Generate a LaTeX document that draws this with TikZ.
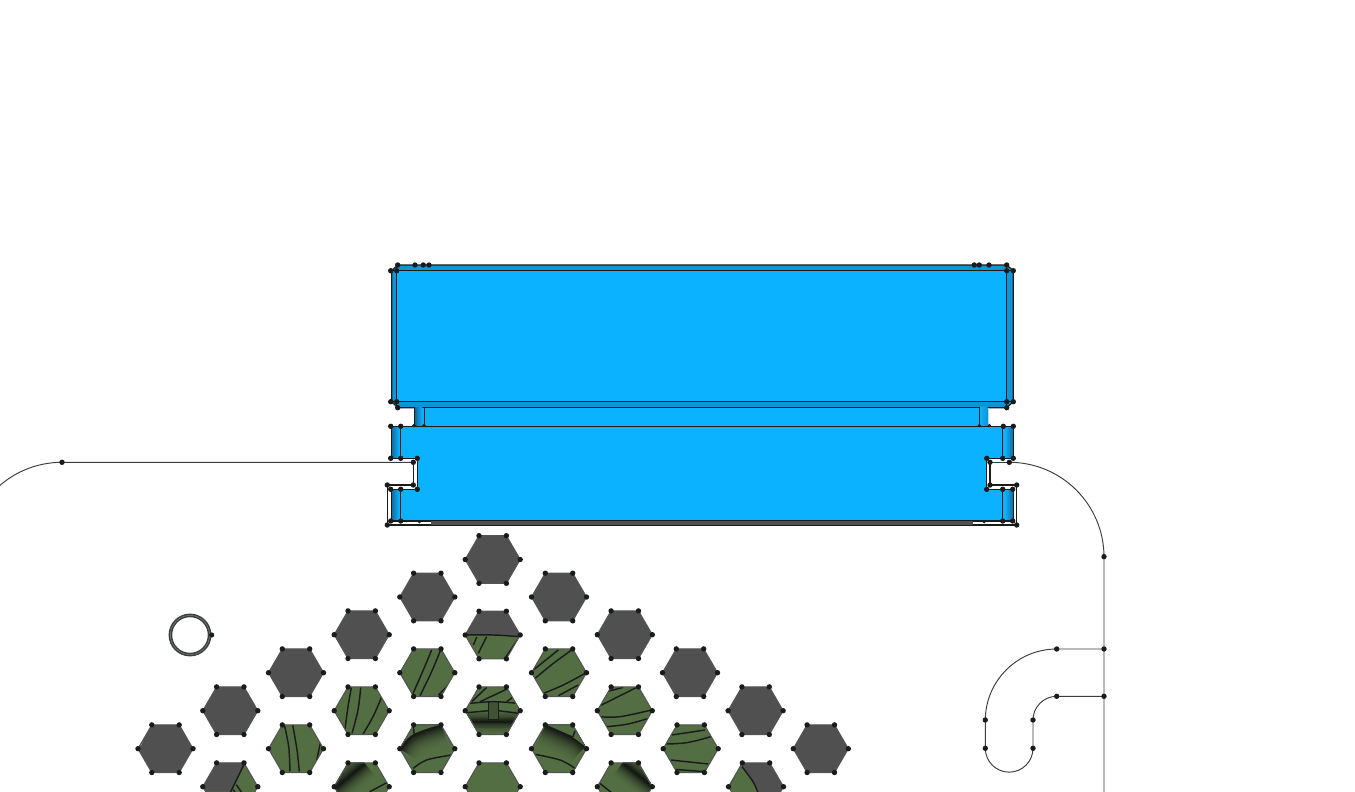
\documentclass[tikz,border=0pt]{standalone}
\usetikzlibrary{calc}
\definecolor{blu}{HTML}{0AB2FF}
\definecolor{blud}{HTML}{0E95D6}
\definecolor{bluk}{HTML}{14689A}
\definecolor{hgrey}{HTML}{505050}
\definecolor{hgreen}{HTML}{546E43}
\definecolor{ink}{HTML}{1A1C1C}
\definecolor{foldc}{HTML}{161A14}
\tikzset{
  hl/.style={draw=ink,line width=1.45pt,line join=round},
  ol/.style={draw=ink,line width=1.2pt,line join=miter},
  thin line/.style={draw=ink!85,line width=0.95pt},
  dotm/.style={fill=ink,draw=none},
}
\newcommand\dotsat[1]{\foreach \p in {#1} \fill[dotm] \p circle[radius=2.7];}
\newcommand\hexpath{(-27.5,0) -- (-13.7,-23.8) -- (13.7,-23.8) -- (27.5,0) -- (13.7,23.8) -- (-13.7,23.8) -- cycle}
\newcommand\hexa[4]{%
  \begin{scope}[shift={(#1,#2)}]
    \begin{scope}
      \clip \hexpath;
      \fill[#3] \hexpath;
      #4
    \end{scope}
    \draw[ink!75,line width=1.1pt,line join=round] \hexpath;
    \dotsat{(-27.5,0),(-13.7,-23.8),(13.7,-23.8),(27.5,0),(13.7,23.8),(-13.7,23.8)}
  \end{scope}}
\newcommand\cv[1]{\draw[hl] plot[smooth,tension=0.6] coordinates {#1};}
\newcommand\foldcv[2]{%
  \foreach \k in {1,...,18}{%
    \pgfmathsetmacro\ww{#1*(19-\k)/18}%
    \pgfmathsetmacro\mm{(\k/18)^2.2*100}%
    \draw[line width=\ww pt,color=foldc!\mm!hgreen] plot[smooth,tension=0.6] coordinates {#2};}}
\begin{document}
\begin{tikzpicture}[x=1pt,y=-1pt]
\clip (0,0) rectangle (1355,792);
\fill[white] (0,0) rectangle (1355,792);

% ---- thin curves
\draw[thin line] (413.3,462.3) -- (62,462.3) arc[start angle=-90,end angle=-180,radius=95];
\draw[thin line] (1009.3,462.3) arc[start angle=-90,end angle=0,radius=94.7] -- (1104,792);
\draw[thin line] (1104,649) -- (1056.7,649) arc[start angle=-90,end angle=-180,radius=71.4] -- (985.3,748.3)
   arc[start angle=180,end angle=0,radius=23.85] -- (1033,720) arc[start angle=180,end angle=270,radius=23.7] -- (1104,696.3);

% ---- top box
\fill[blud] (397.7,265) -- (1006.7,265) -- (1013.3,270.7) -- (1013.3,401.7) -- (1006.7,407.7) -- (397.7,407.7) -- (391.7,401.7) -- (391.7,270.7) -- cycle;
\fill[blu] (396.7,270.7) rectangle (1006.7,401.7);
\draw[ol] (397.7,265) -- (1006.7,265) -- (1013.3,270.7) -- (1013.3,401.7) -- (1006.7,407.7) -- (397.7,407.7) -- (391.7,401.7) -- (391.7,270.7) -- cycle;
\draw[ol] (391.7,270.7) -- (1013.3,270.7);
\draw[ol] (391.7,401.7) -- (1013.3,401.7);
\draw[ol] (396.7,265) -- (396.7,407.7);
\draw[ol] (1006.7,265) -- (1006.7,407.7);

% ---- neck
\fill[blu] (414.5,407.7) rectangle (989,426.3);
\shade[left color=bluk,right color=blu] (415,407.7) rectangle (422,426.3);
\shade[left color=blu,right color=blud] (980,407.7) rectangle (987.5,426.3);
\fill[white!60!blu] (987.5,407.7) rectangle (989,426.3);
\draw[ol] (414.5,407.7) -- (414.5,426.3);
\draw[ol] (424.3,407.7) -- (424.3,426.3);
\draw[ol] (979.3,407.7) -- (979.3,426.3);

% ---- body
\fill[blu] (391.5,426.3) -- (1013.3,426.3) -- (1013.3,458.3) -- (986.7,458.3) -- (986.7,489.3) -- (1013.3,489.3) -- (1013.3,521) -- (391.5,521) -- (391.5,489.3) -- (417.3,489.3) -- (417.3,458.3) -- (391.5,458.3) -- cycle;
\shade[left color=bluk,right color=blu] (391.5,426.3) rectangle (399,458.3);
\shade[left color=bluk,right color=blu] (391.5,489.3) rectangle (399,521);
\shade[left color=blu,right color=bluk] (1005,426.3) rectangle (1013.3,458.3);
\shade[left color=blu,right color=bluk] (1005,489.3) rectangle (1013.3,521);
\draw[ol] (391.5,521) -- (391.5,489.3) -- (417.3,489.3) -- (417.3,458.3) -- (391.5,458.3) -- (391.5,426.3) -- (1013.3,426.3) -- (1013.3,458.3) -- (986.7,458.3) -- (986.7,489.3) -- (1013.3,489.3) -- (1013.3,521) -- cycle;
\draw[ol] (400.7,426.3) -- (400.7,458.3);
\draw[ol] (400.7,489.3) -- (400.7,521);
\draw[ol] (1002.7,426.3) -- (1002.7,458.3);
\draw[ol] (1002.7,489.3) -- (1002.7,521);
% notch outlines and base
\fill[hgrey] (431,521) rectangle (972.7,525);
\draw[ol] (413.3,462.3) -- (413.3,485) -- (387.3,485) -- (387.3,525) -- (431,525);
\draw[ol] (990,462.3) -- (990,485) -- (1016.7,485) -- (1016.7,525) -- (972.7,525);
\draw[thin line] (990,462.3) -- (1009.3,462.3);
\draw[ink,line width=0.9pt] (431,525) -- (972.7,525);

\dotsat{(390.7,270.7),(396.7,270.7),(397.7,265),(415,265),(423.3,265),(429,265),(390.7,401.7),(396.7,401.7),(397.7,407.7),
 (1006.7,270.7),(1013.3,270.7),(1006.7,265),(974.3,265),(979.3,265),(989,265),(1006.7,401.7),(1013.3,401.7),(1006.7,407.7),
 (390.7,426.3),(400.7,426.3),(390.7,458.3),(400.7,458.3),(417.3,458.3),(413.3,462.3),(413.3,485),(417.3,489.3),(400.7,489.3),(390.7,489.3),(387.3,485),(387.3,525),(390.7,521),(400.7,521),
 (1003.3,426.3),(1013.3,426.3),(986.7,458.3),(1002.7,458.3),(1013.3,458.3),(990,462.3),(1009.3,462.3),(990,485),(986.7,489.3),(1002.7,489.3),(1012.7,489.3),(1016.7,485),(1002.7,521),(1012.7,521),(1016.7,525),
 (62,462.3),(1104,556.7),(1104,649),(1104,696.3),(1056.7,649),(1056.7,696.3),(985.3,720),(1033,720),(985.3,748.3),(1033,748.3)}
\foreach \p in {(419.3,521.7),(984,521.7),(414,425.5),(424,425.5),(979.3,425.5),(989.3,425.5)} \fill[dotm] \p circle[radius=1.8];

% ---- ring
\draw[ink!85,line width=3.6pt] (190,635) circle[radius=19.6];
\draw[white!45!ink,line width=0.5pt] (190,635) circle[radius=19.6];
\fill[dotm] (211.7,635) circle[radius=2.6];

% ---- plain grey hexagons
\foreach \cx/\cy in {492.7/559.5,427.3/597,559/597,361.7/634.7,624.8/634.7,296/672.7,690/672.7,230.3/710.7,755.6/710.7,820.8/748.7}
  {\hexa{\cx}{\cy}{hgrey}{}}
\hexa{165.5}{748.7}{hgrey}{\draw[white!70!hgrey,line width=0.7pt] (-17.5,-21) -- (-25,-3);}

% ---- mixed / green hexagons
\hexa{492.7}{635}{hgrey}{
  \fill[hgreen] (-28,0) -- (1,0) -- (28,1.7) -- (28,25) -- (-28,25) -- cycle;
  \cv{(-27,0) (1,0) (27,1.7)}
  \cv{(-19.3,10) (-16,2)}
  \cv{(-14.3,18.3) (-6,1.7)}
  \cv{(12.3,23.3) (24.7,5)}}
\hexa{427.3}{672.7}{hgreen}{
  \cv{(4.3,-22.7) (-4,-2.7) (-14.7,21.7)}
  \cv{(13.3,-22.7) (4.3,-1) (-7.3,23)}
  \cv{(26,7.3) (11,22.3)}}
\hexa{559}{672.7}{hgreen}{
  \cv{(-25.7,-2.7) (-0.7,-22.7)}
  \cv{(-24,5.7) (-5.7,-9.3) (12.7,-22.7)}
  \cv{(-15.7,20.7) (4.3,12.3) (26,0.7)}
  \cv{(-0.7,23) (19.3,12.3)}}
\hexa{361.7}{710.7}{hgreen}{
  \cv{(-10.3,-23.3) (-13.7,-4) (-17,21)}
  \cv{(-1,-23.3) (-3.7,-0.7) (-9.7,22.7)}
  \cv{(19.7,-13) (11.3,6) (1.3,23.3)}
  \cv{(27.3,1) (16.3,22.7)}}
\hexa{492.7}{710.7}{hgreen}{
  \foldcv{30}{(-30,11) (30,11)}
  \fill[hgreen] (-30,-24) rectangle (30,0);
  \fill[hgreen!75!black] (-4.3,-9) rectangle (5.7,8.7);
  \cv{(-21,-9) (-6,-23.3)}
  \cv{(-12.7,-9) (15.7,-22.3)}
  \cv{(14,-9) (20.7,-14)}
  \cv{(-26,-7) (0,-9) (26,-7.3)}
  \cv{(-26,2) (-4.3,0)}
  \cv{(5.7,0) (26.7,2.7)}
  \draw[hl] (-4.3,-9) rectangle (5.7,8.7);}
\hexa{624.8}{710.7}{hgreen}{
  \cv{(-18.3,-19) (-1.7,-23.3)}
  \cv{(-26.7,-4) (13.3,-24)}
  \cv{(-25,6) (-5,6) (26.7,-0.7)}
  \cv{(-18.3,16) (3.3,13.3) (23.3,7.7)}}
\hexa{296}{748.7}{hgreen}{
  \cv{(-11.7,-23.7) (-7.3,-2) (-6,23)}
  \cv{(-3.3,-23.7) (1,1.3) (3.3,23)}
  \cv{(25,-8.7) (18.3,23)}}
\hexa{427.3}{748.7}{hgreen}{
  \foldcv{46}{(-27,0) (-14,-13.7) (14.3,-23.7)}
  \fill[hgreen] (-28,-1) -- (-14,-14.5) -- (15,-24.5) -- (-28,-26) -- cycle;
  \cv{(-27,0) (-14,-13.7) (14.3,-23.7)}
  \cv{(-14,-22) (-13,-14)}
  \cv{(-14,19.7) (-0.7,11.3) (24.3,6.3)}}
\hexa{559}{748.7}{hgreen}{
  \foldcv{48}{(-13.7,-23.5) (14,-11) (26,-2)}
  \fill[hgreen] (-14,-24.5) -- (14,-11.5) -- (28,-1) -- (28,-26) -- cycle;
  \cv{(-13.7,-23.5) (14,-11.5)}
  \cv{(14,-12) (16,-18)}
  \cv{(-25.7,5.3) (1,11.3) (16,19.7)}}
\hexa{690.7}{748.7}{hgreen}{
  \cv{(-19,-13.7) (14.3,-18.7)}
  \cv{(-26.7,-4.7) (-4,-6) (20,-12)}
  \cv{(-20,11.3) (17.7,15.3)}
  \cv{(-15.7,20.7) (14.3,23)}}
\hexa{230.3}{786.7}{hgreen}{
  \fill[hgrey] (-28,0) -- (-13.7,-24) -- (14.3,-24) -- (0,5) -- (-28,5) -- cycle;
  \cv{(14.3,-23.5) (0,6)}
  \cv{(6,-2) (13,8)}
  \cv{(3,3) (6,8)}}
\hexa{361.7}{786.7}{hgreen}{
  \foldcv{38}{(-27,2) (3,-23)}
  \cv{(27,-5) (8,5)}}
\hexa{492.7}{786.7}{hgreen}{}
\hexa{624.8}{786.7}{hgreen}{
  \foldcv{36}{(-2,-23.5) (28,0)}
  \cv{(-27,-5) (-12,7)}}
\hexa{756}{786.7}{hgrey}{
  \fill[hgreen] (-16,-24) -- (-14,-20) -- (-3,-5) -- (2,6) -- (-28,6) -- cycle;
  \cv{(-14,-20) (-3,-5) (2,6)}}
\end{tikzpicture}
\end{document}
